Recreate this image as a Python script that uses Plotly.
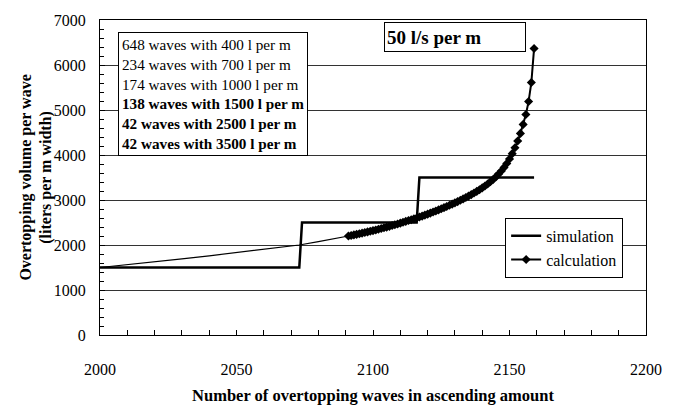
import plotly.graph_objects as go

# Simulation (step) series
sim_x = [2000, 2073, 2074, 2116, 2117, 2159]
sim_y = [1500, 1500, 2500, 2500, 3500, 3500]

# Calculation series: thin lower part (no markers)
calc_low_x = [2000, 2010, 2020, 2030, 2040, 2050, 2060, 2070, 2073, 2080, 2085, 2091]
calc_low_y = [1500, 1560, 1625, 1690, 1760, 1830, 1905, 1975, 2000, 2075, 2130, 2200]

# Calculation series with markers (one per wave)
calc_x = list(range(2091, 2160))
calc_y = [2200, 2212, 2224, 2237, 2250, 2263, 2277, 2291, 2305, 2320,
          2335, 2350, 2366, 2382, 2398, 2415, 2432, 2450, 2468, 2486,
          2505, 2524, 2543, 2562, 2581, 2600, 2621, 2642, 2664, 2686,
          2709, 2732, 2756, 2780, 2805, 2830, 2856, 2882, 2909, 2937,
          2965, 2994, 3024, 3055, 3087, 3120, 3155, 3191, 3229, 3269,
          3311, 3356, 3404, 3456, 3513, 3576, 3646, 3724, 3812, 3912,
          4030, 4160, 4310, 4480, 4680, 4900, 5190, 5610, 6365]

info_lines = ["648 waves with 400 l per m",
              "234 waves with 700 l per m",
              "174 waves with 1000 l per m",
              "138 waves with 1500 l per m",
              "42 waves with 2500 l per m",
              "42 waves with 3500 l per m"]
info_bold = [False, False, False, True, True, True]

FONT = "Liberation Serif, Times New Roman, serif"

fig = go.Figure()
fig.add_trace(go.Scatter(x=sim_x, y=sim_y, mode="lines", name="simulation",
                         line=dict(color="black", width=2.5)))
fig.add_trace(go.Scatter(x=calc_low_x, y=calc_low_y, mode="lines", showlegend=False,
                         line=dict(color="black", width=1.2), hoverinfo="skip"))
fig.add_trace(go.Scatter(x=calc_x, y=calc_y, mode="lines+markers", name="calculation",
                         line=dict(color="black", width=2),
                         marker=dict(symbol="diamond", size=7, color="black")))

info_text = "<br>".join(f"<b>{t}</b>" if b else t for t, b in zip(info_lines, info_bold))

fig.update_layout(
    width=674, height=414,
    margin=dict(l=100, r=18, t=14, b=67),
    paper_bgcolor="white", plot_bgcolor="white",
    font=dict(family=FONT, size=16, color="black"),
    showlegend=True,
    legend=dict(x=0.742, y=0.372, xanchor="left", yanchor="top",
                bgcolor="white", bordercolor="black", borderwidth=1,
                font=dict(size=16, family=FONT), tracegroupgap=0,
                itemwidth=30),
    xaxis=dict(range=[2000, 2200], dtick=50, showgrid=False, zeroline=False,
               showline=True, linecolor="black", linewidth=1, mirror=True,
               ticks="inside", ticklen=5, tickcolor="black",
               minor=dict(dtick=10, ticks="inside", ticklen=5, tickcolor="black", showgrid=False),
               ticklabelstandoff=20,
               tickfont=dict(size=16, family=FONT),
               title=dict(text="<b>Number of overtopping waves in ascending amount</b>",
                          font=dict(size=16.5, family=FONT), standoff=12)),
    yaxis=dict(range=[0, 7000], dtick=1000, showgrid=True, gridcolor="#333", gridwidth=1,
               zeroline=False, showline=True, linecolor="black", linewidth=1, mirror=True,
               ticks="inside", ticklen=5, tickcolor="black",
               minor=dict(dtick=200, ticks="inside", ticklen=4, tickcolor="black", showgrid=False),
               ticklabelstandoff=10,
               tickfont=dict(size=16, family=FONT)),
    annotations=[
        dict(xref="paper", yref="paper", x=-0.117, y=0.5, xanchor="center", yanchor="middle",
             textangle=-90, showarrow=False,
             text="<b>Overtopping volume per wave<br>(liters per m width)</b>",
             font=dict(size=16, family=FONT)),
        dict(xref="paper", yref="paper", x=0.033, y=0.962, xanchor="left", yanchor="top",
             showarrow=False, align="left", text=info_text,
             bgcolor="white", bordercolor="black", borderwidth=1, borderpad=3,
             font=dict(size=15.2, family=FONT)),
        dict(xref="paper", yref="paper", x=0.52, y=0.994, xanchor="left", yanchor="top",
             showarrow=False, align="left", text="<b>50 l/s per m</b>",
             width=136, height=24,
             bgcolor="white", bordercolor="black", borderwidth=1, borderpad=2,
             font=dict(size=19, family=FONT)),
    ],
)

fig.write_html("out.html")
